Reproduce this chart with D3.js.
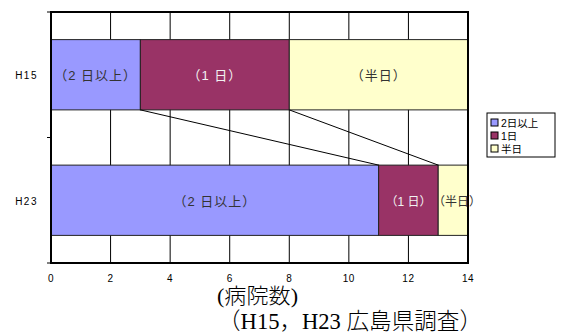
<!DOCTYPE html>
<html><head><meta charset="utf-8">
<script src="https://cdn.jsdelivr.net/npm/d3@7"></script>
<style>
body{margin:0;background:#fff;}
svg text{font-family:"Liberation Sans",Arial,"Noto Sans CJK JP",sans-serif;}
</style></head>
<body><svg id="c" width="568" height="334"></svg>
<script>
// survey years (rows) and hospital counts by stay length
const years = ["H15", "H23"];
const seriesNames = ["2日以上", "1日", "半日"];
const seriesLabels = ["（2 日以上）", "（1 日）", "（半日）"];
const seriesColors = ["#9999FF", "#993366", "#FFFFCC"];
const labelColors = ["#333", "#f2f2f2", "#333"];
const countsH15 = [3, 5, 6];
const countsH23 = [11, 2, 1];
const xTicks = [0, 2, 4, 6, 8, 10, 12, 14];

const svg = d3.select("#c");
const pL = 51, pR = 468, pT = 12, pB = 263;

const x = d3.scaleLinear().domain([0, 14]).range([pL, pR]);
const y = d3.scaleBand().domain(years).range([pT, pB]).paddingInner(0.44).paddingOuter(0.22);

// stacked rows
const rows = [countsH15, countsH23].map((vals, i) => {
  let acc = 0;
  return vals.map((v, j) => { const s = { year: years[i], k: j, x0: acc, x1: acc + v, v }; acc += v; return s; });
});

// plot area + vertical gridlines
svg.append("rect").attr("x", pL).attr("y", pT).attr("width", pR - pL).attr("height", pB - pT)
  .attr("fill", "#fff");
svg.append("g").selectAll("line").data(xTicks.slice(1, -1)).join("line")
  .attr("x1", d => x(d)).attr("x2", d => x(d)).attr("y1", pT).attr("y2", pB)
  .attr("stroke", "#000").attr("stroke-width", 1);

// bars
const bars = svg.append("g");
rows.forEach(r => {
  bars.selectAll(null).data(r).join("rect")
    .attr("x", d => x(d.x0)).attr("width", d => x(d.x1) - x(d.x0))
    .attr("y", d => y(d.year)).attr("height", y.bandwidth())
    .attr("fill", d => seriesColors[d.k]).attr("stroke", "#222").attr("stroke-width", 1);
});

// series lines between the two rows
const sl = svg.append("g");
[0, 1].forEach(k => {
  sl.append("line")
    .attr("x1", x(rows[0][k].x1)).attr("y1", y(years[0]) + y.bandwidth())
    .attr("x2", x(rows[1][k].x1)).attr("y2", y(years[1]))
    .attr("stroke", "#000").attr("stroke-width", 1);
});

// frame
svg.append("rect").attr("x", pL).attr("y", pT).attr("width", pR - pL).attr("height", pB - pT)
  .attr("fill", "none").attr("stroke", "#000").attr("stroke-width", 2);

// segment labels (drawn above the frame so an overflowing label stays visible)
const narrow = d => d.year === "H23" && d.k > 0;
const lbl = svg.append("g");
rows.forEach(r => {
  lbl.selectAll(null).data(r).join("text")
    .attr("x", d => (x(d.x0) + x(d.x1)) / 2 + (d.year === "H23" && d.k === 2 ? 4 : 0))
    .attr("y", d => y(d.year) + y.bandwidth() / 2 + 5.5)
    .attr("text-anchor", "middle").attr("font-size", d => narrow(d) ? 12 : 13)
    .attr("fill", d => labelColors[d.k])
    .style("letter-spacing", d => narrow(d) ? "0px" : "1px")
    .text(d => seriesLabels[d.k]);
});

// x axis labels
svg.append("g").selectAll("text").data(xTicks).join("text")
  .attr("x", d => x(d)).attr("y", 282).attr("text-anchor", "middle").attr("font-size", 10)
  .style("letter-spacing", "0.5px").text(d => d);

// y axis ticks and labels
const yTickPos = [pT, (y("H15") + y.bandwidth() + y("H23")) / 2, pB];
svg.append("g").selectAll("line").data(yTickPos).join("line")
  .attr("x1", pL - 4).attr("x2", pL).attr("y1", d => d).attr("y2", d => d).attr("stroke", "#000");
svg.append("g").selectAll("text").data(years).join("text")
  .attr("x", 38).attr("y", d => y(d) + y.bandwidth() / 2 + 4.5).attr("text-anchor", "end")
  .attr("font-size", 10).style("letter-spacing", "1.5px").text(d => d);

// legend
const lg = svg.append("g").attr("transform", "translate(487,113)");
lg.append("rect").attr("width", 68).attr("height", 44).attr("fill", "#fff").attr("stroke", "#000");
seriesNames.forEach((n, i) => {
  lg.append("rect").attr("x", 4).attr("y", 6 + i * 13).attr("width", 7).attr("height", 7)
    .attr("fill", seriesColors[i]).attr("stroke", "#000");
  lg.append("text").attr("x", 14).attr("y", 13.5 + i * 13).attr("font-size", 10.5).text(n);
});

// captions
const serif = "'Liberation Serif','Noto Sans CJK JP',serif";
svg.append("text").attr("x", 217).attr("y", 303).attr("font-size", 21)
  .attr("textLength", 81).attr("lengthAdjust", "spacingAndGlyphs")
  .style("font-family", serif).style("font-weight", 300).text("(病院数)");
svg.append("text").attr("x", 218).attr("y", 329).attr("font-size", 23)
  .attr("textLength", 264).attr("lengthAdjust", "spacingAndGlyphs")
  .style("font-family", serif).style("font-weight", 300).text("（H15，H23 広島県調査）");
</script></body></html>
